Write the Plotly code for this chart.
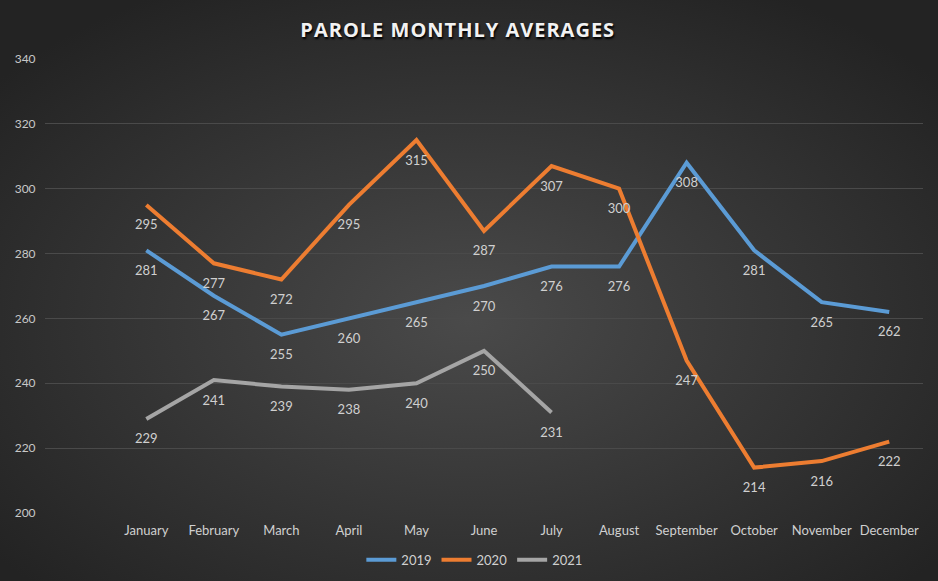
import base64
import plotly.graph_objects as go

months = ["January", "February", "March", "April", "May", "June", "July",
          "August", "September", "October", "November", "December"]
y2019 = [281, 267, 255, 260, 265, 270, 276, 276, 308, 281, 265, 262]
y2020 = [295, 277, 272, 295, 315, 287, 307, 300, 247, 214, 216, 222]
y2021 = [229, 241, 239, 238, 240, 250, 231, None, None, None, None, None]
y_ticks = [200, 220, 240, 260, 280, 300, 320, 340]

W, H = 938, 581
ML, MR, MT, MB = 45, 15, 59, 68

svg = f'''<svg xmlns="http://www.w3.org/2000/svg" width="{W}" height="{H}" preserveAspectRatio="none">
<defs><radialGradient id="g" cx="50%" cy="55%" r="65%">
<stop offset="0%" stop-color="#4a4a4a"/><stop offset="100%" stop-color="#232323"/>
</radialGradient></defs><rect width="{W}" height="{H}" fill="url(#g)"/></svg>'''
bg = "data:image/svg+xml;base64," + base64.b64encode(svg.encode()).decode()

pw, ph = W - ML - MR, H - MT - MB

series = [("2019", y2019, "#5B9BD5"), ("2020", y2020, "#ED7D31"), ("2021", y2021, "#A5A5A5")]
fig = go.Figure()
for name, ys, col in series:
    fig.add_trace(go.Scatter(
        x=months, y=ys, name=name, mode="lines+markers+text",
        line=dict(color=col, width=4),
        marker=dict(size=22, color="rgba(0,0,0,0)"),
        text=[str(v) if v is not None else "" for v in ys],
        textposition="bottom center",
        textfont=dict(family="Lato, sans-serif", size=13, color="#d0d0d0"),
        cliponaxis=False,
    ))

fig.update_layout(
    width=W, height=H,
    margin=dict(l=ML, r=MR, t=MT, b=MB, autoexpand=False),
    paper_bgcolor="#2e2e2e", plot_bgcolor="rgba(0,0,0,0)",
    images=[dict(source=bg, xref="paper", yref="paper",
                 x=-ML / pw, y=1 + MT / ph, sizex=W / pw, sizey=H / ph,
                 sizing="stretch", layer="below", xanchor="left", yanchor="top")],
    title=dict(text="<b>PAROLE MONTHLY AVERAGES</b>", xref="container", x=0.488,
               xanchor="center", yref="container", y=1 - 30 / H, yanchor="middle",
               font=dict(family="Open Sans, sans-serif", size=20, color="#f2f2f2",
                         shadow="1px 2px 2px #000000")),
    xaxis=dict(type="category", categoryorder="array", categoryarray=months,
               range=[-1.5, 11.5], showgrid=False, zeroline=False, showline=False,
               automargin=False,
               ticks="outside", ticklen=5, tickcolor="rgba(0,0,0,0)",
               tickfont=dict(family="Lato, sans-serif", size=13, color="#d0d0d0")),
    yaxis=dict(range=[200, 340], tickvals=y_ticks, showgrid=True, gridcolor="#4a4a4a",
               gridwidth=1, zeroline=False, showline=False, automargin=False,
               ticks="outside", ticklen=6, tickcolor="rgba(0,0,0,0)",
               tickfont=dict(family="Lato, sans-serif", size=12, color="#c8c8c8")),
    legend=dict(orientation="h", x=0.489, xanchor="center", y=-0.07, yanchor="top",
                font=dict(family="Lato, sans-serif", size=13, color="#d0d0d0"),
                bgcolor="rgba(0,0,0,0)", itemwidth=30, tracegroupgap=0),
    showlegend=True,
)
post = """
document.body.style.margin = '0';
document.body.style.background = '#232323';
var t = document.querySelector('.gtitle');
if (t) { t.style.letterSpacing = '1px'; }
"""
fig.write_html("out.html", post_script=post, config={"displayModeBar": False})
